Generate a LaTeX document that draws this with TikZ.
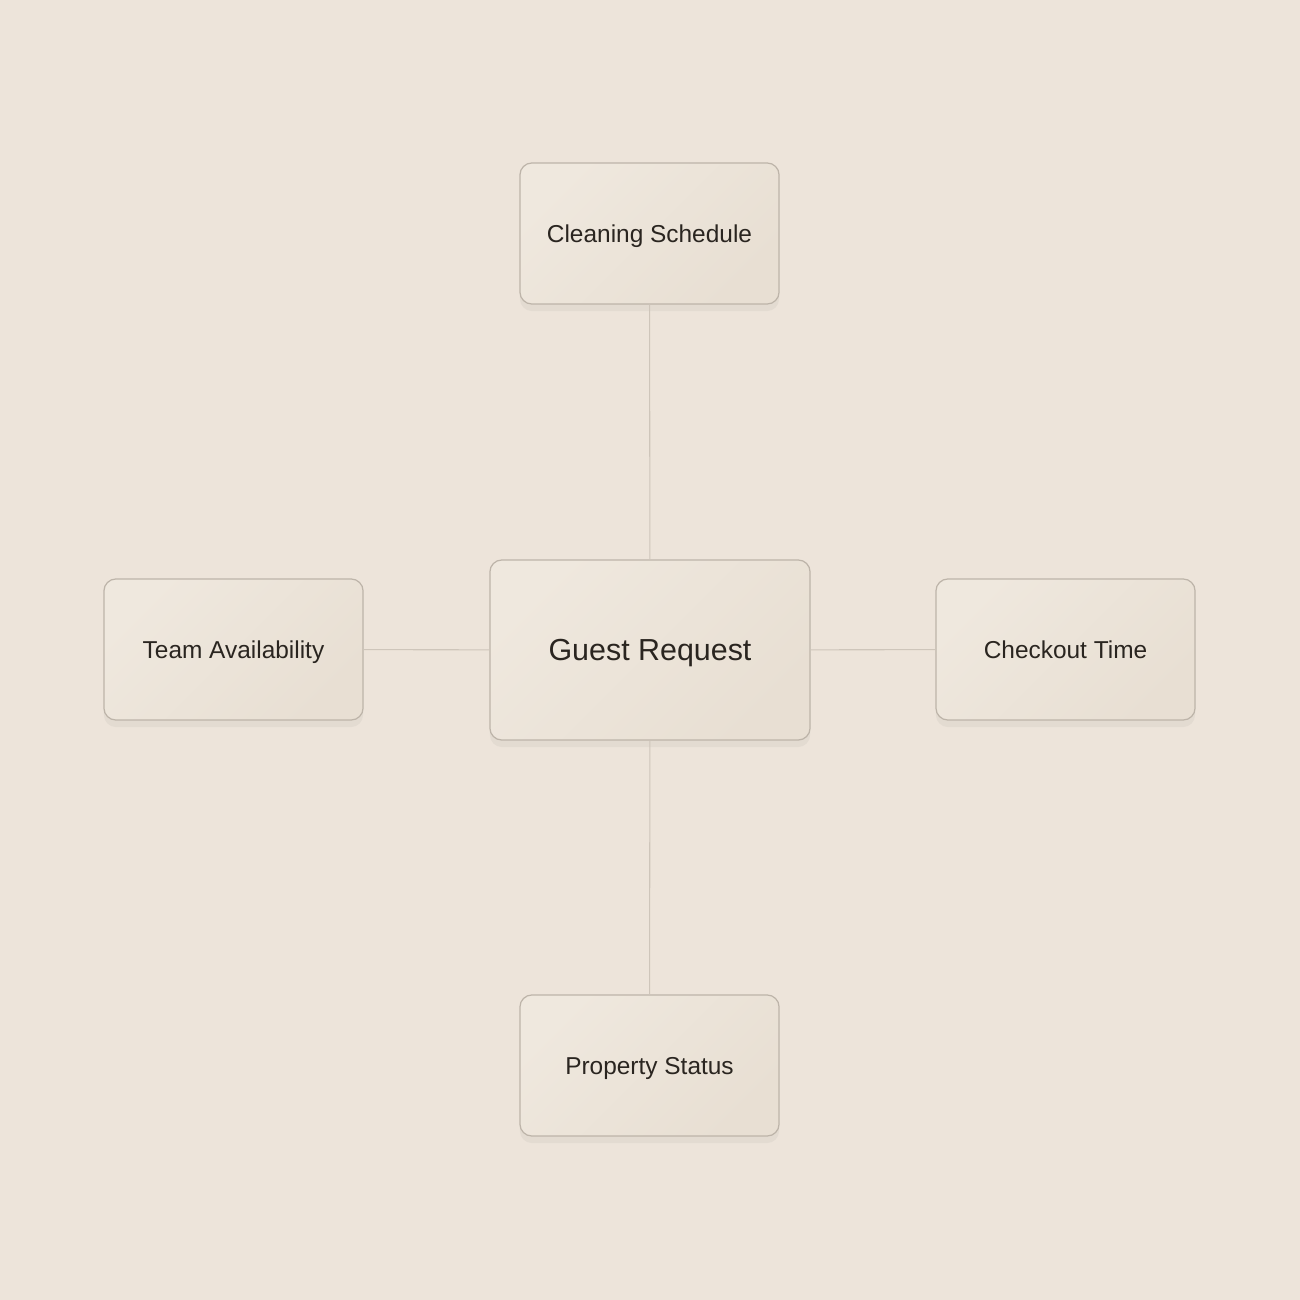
\documentclass[tikz,border=0pt]{standalone}
\usepackage{fontspec}
\setmainfont{Liberation Sans}
\usetikzlibrary{shadows,fadings}
\definecolor{bg}{HTML}{EDE4DA}
\definecolor{boxA}{HTML}{EFE8DE}
\definecolor{boxB}{HTML}{E8DFD3}
\definecolor{boxline}{HTML}{BDB4A9}
\definecolor{conn}{HTML}{CEC5BA}
\definecolor{ink}{HTML}{2A2520}
\tikzset{
  card/.style={draw=boxline, line width=0.35pt, rounded corners=1.2mm,
    shading=axis, left color=boxA, right color=boxB, shading angle=45,
    drop shadow={shadow xshift=0pt, shadow yshift=-0.7mm, opacity=0.07, fill=black!60},
    text=ink, align=center, inner sep=0pt, text depth=0pt},
  small/.style={card, minimum width=2.59cm, minimum height=1.41cm,
    font=\fontsize{6.95}{9}\selectfont, text height=4.98pt},
  big/.style={card, minimum width=3.2cm, minimum height=1.8cm,
    font=\fontsize{8.65}{11}\selectfont, text height=6.19pt},
  link/.style={draw=conn, line width=0.3pt}
}
\begin{document}
\begin{tikzpicture}[x=0.01cm,y=-0.01cm]
\fill[bg] (0,0) rectangle (1300,1300);
\useasboundingbox (0,0) rectangle (1300,1300);
\node[big] (gr) at (650,650) {Guest Request};
\node[small] (cs) at (649.5,233.5) {Cleaning Schedule};
\node[small] (ta) at (233.5,649.5) {Team Availability};
\node[small] (ct) at (1065.5,649.5) {Checkout Time};
\node[small] (ps) at (649.5,1065.5) {Property Status};
\draw[link] (cs) -- (gr);
\draw[link] (gr) -- (ps);
\draw[link] (ta) -- (gr);
\draw[link] (gr) -- (ct);
\end{tikzpicture}
\end{document}
